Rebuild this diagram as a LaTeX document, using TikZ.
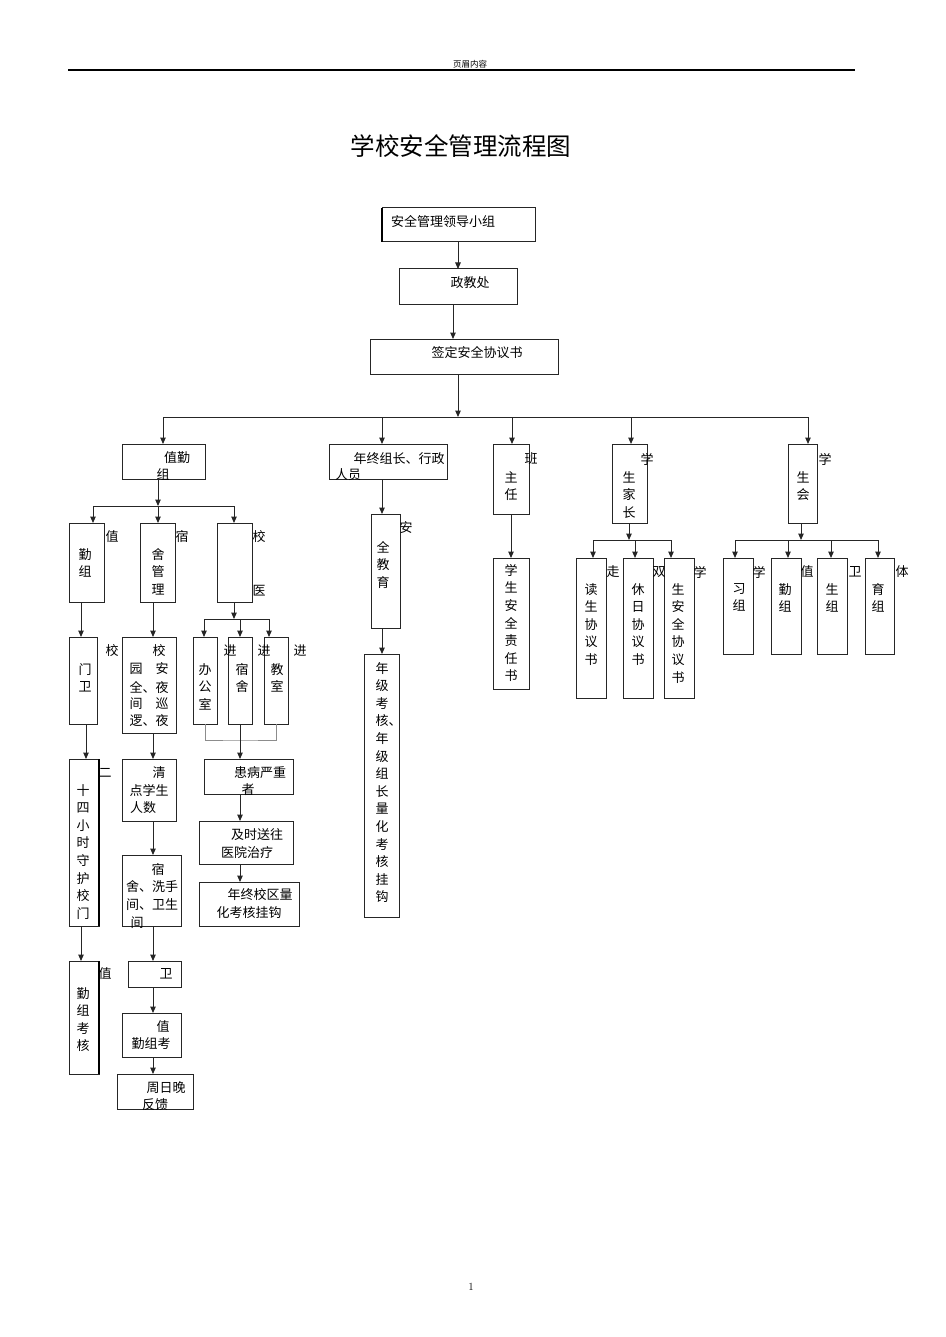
\documentclass[tikz,border=0pt]{standalone}
\usepackage{fontspec}
\newfontfamily\cjk{Noto Sans CJK SC}
\usetikzlibrary{arrows.meta}
\tikzset{
 bx/.style={draw=black!85, line width=1pt, inner sep=0pt, outer sep=0pt},
 ln/.style={draw=black!85, line width=1pt},
 gln/.style={draw=black!45, line width=1pt},
 arr/.style={ln, -{Triangle[length=6.5pt,width=5.5pt]}},
 ht/.style={font=\cjk\fontsize{13}{17.6}\selectfont, inner sep=0pt},
 vt/.style={ht, align=left, anchor=north west},
}
\newcommand\mkbox[5]{\node[bx, minimum width={(#4-#2)*1pt}, minimum height={(#5-#3)*1pt}] (#1) at ({(#2+#4)/2},{(#3+#5)/2}) {};}
\newcommand\vtxt[4]{\node[vt] (#1) at ({#2-6.5},{#3-6}) {#4};}
\newcommand\htxt[4]{\node[ht] (#1) at (#2,#3) {#4};}
\begin{document}
\begin{tikzpicture}[x=1pt,y=-1pt]
\useasboundingbox (0,0) rectangle (945,1337);
\fill[white] (0,0) rectangle (945,1337);
% header, title, page number
\node[inner sep=0pt, font=\cjk\fontsize{8.5}{10}\selectfont] (hdr) at (470,64) {页眉内容};
\draw[line width=1.2pt] (68,70) -- (855,70);
\node[inner sep=0pt, font=\cjk\fontsize{24.5}{28}\selectfont] (title) at (461,146) {学校安全管理流程图};
\node[inner sep=0pt, font=\fontsize{11}{13}\selectfont] (pg) at (471,1287) {1};

% boxes
\mkbox{A}{382}{208}{535}{242}
\mkbox{B}{399}{269}{517}{304}
\mkbox{C}{370}{339}{558}{374}
\mkbox{g1}{122}{444}{205}{479}
\mkbox{g2}{329}{444}{447}{479}
\mkbox{g3}{493}{444}{529}{514}
\mkbox{g4}{612}{444}{647}{523}
\mkbox{g5}{788}{444}{817}{523}
\mkbox{l1}{69}{523}{104}{602}
\mkbox{l2}{140}{523}{175}{602}
\mkbox{l3}{217}{523}{252}{602}
\mkbox{l1a}{69}{637}{97}{724}
\mkbox{l1b}{69}{759}{99}{926}
\mkbox{l1c}{69}{961}{99}{1074}
\mkbox{l2a}{122}{637}{176}{733}
\mkbox{l2b}{122}{759}{176}{821}
\mkbox{l2c}{122}{855}{181}{926}
\mkbox{l2d}{128}{961}{181}{987}
\mkbox{l2e}{122}{1013}{181}{1057}
\mkbox{l2f}{117}{1074}{193}{1109}
\mkbox{l3a}{193}{637}{217}{724}
\mkbox{l3b}{228}{637}{252}{724}
\mkbox{l3c}{264}{637}{288}{724}
\mkbox{l3d}{204}{759}{293}{794}
\mkbox{l3e}{199}{821}{293}{864}
\mkbox{l3f}{199}{882}{299}{926}
\mkbox{m1}{371}{514}{400}{628}
\mkbox{m2}{364}{654}{399}{917}
\mkbox{r1}{493}{558}{529}{689}
\mkbox{p1}{576}{558}{606}{698}
\mkbox{p2}{623}{558}{653}{698}
\mkbox{p3}{664}{558}{694}{698}
\mkbox{s1}{723}{558}{753}{654}
\mkbox{s2}{771}{558}{801}{654}
\mkbox{s3}{817}{558}{847}{654}
\mkbox{s4}{865}{558}{894}{654}
% thick edges
\draw[line width=1.8pt] (A.north west) -- (A.south west);
\draw[line width=1.6pt] (l1b.north east) -- (l1b.south east);
\draw[line width=1.6pt] (l1c.north east) -- (l1c.south east);

% texts
\htxt{tA}{443}{222}{安全管理领导小组}
\htxt{tB}{470}{283}{政教处}
\htxt{tC}{477}{353}{签定安全协议书}
\htxt{tg1a}{177}{458}{值勤}
\htxt{tg1b}{163}{474}{组}
\htxt{tg2a}{399}{459}{年终组长、行政}
\htxt{tg2b}{348}{475}{人员}
\htxt{tg3a}{531}{459}{班}
\vtxt{tg3b}{511}{477}{主\\任}
\htxt{tg4a}{647}{459}{学}
\vtxt{tg4b}{629}{477}{生\\家\\长}
\htxt{tg5a}{825}{459}{学}
\vtxt{tg5b}{803}{477}{生\\会}
\htxt{tl1a}{112}{537}{值}
\vtxt{tl1b}{85}{554}{勤\\组}
\htxt{tl2a}{182}{537}{宿}
\vtxt{tl2b}{158}{554}{舍\\管\\理}
\htxt{tl3a}{259}{537}{校}
\htxt{tl3b}{259}{591}{医}
\htxt{tl1aa}{112}{651}{校}
\vtxt{tl1ab}{85}{669}{门\\卫}
\htxt{tl2aa}{159}{651}{校}
\htxt{tl2ab}{149}{669}{园　安}
\htxt{tl2ac}{149}{687}{全、夜}
\htxt{tl2ad}{149}{704}{间　巡}
\htxt{tl2ae}{149}{721}{逻、夜}
\htxt{tl3aa}{230}{651}{进}
\vtxt{tl3ab}{205}{669}{办\\公\\室}
\htxt{tl3ba}{264}{651}{进}
\vtxt{tl3bb}{242}{669}{宿\\舍}
\htxt{tl3ca}{300}{651}{进}
\vtxt{tl3cb}{277}{669}{教\\室}
\htxt{tl1ba}{105}{773}{二}
\vtxt{tl1bb}{83}{790}{十\\四\\小\\时\\守\\护\\校\\门}
\htxt{tl1ca}{105}{974}{值}
\vtxt{tl1cb}{83}{993}{勤\\组\\考\\核}
\htxt{tl2ba}{159}{773}{清}
\htxt{tl2bb}{149}{790}{点学生}
\htxt{tl2bc}{143}{808}{人数}
\htxt{tl2ca}{158}{870}{宿}
\htxt{tl2cb}{152}{887}{舍、洗手}
\htxt{tl2cc}{152}{905}{间、卫生}
\htxt{tl2cd}{137}{923}{间}
\htxt{tl2da}{166}{974}{卫}
\htxt{tl2ea}{163}{1027}{值}
\htxt{tl2eb}{151}{1044}{勤组考}
\htxt{tl2fa}{166}{1088}{周日晚}
\htxt{tl2fb}{155}{1105}{反馈}
\htxt{tl3da}{260}{773}{患病严重}
\htxt{tl3db}{248}{790}{者}
\htxt{tl3ea}{257}{835}{及时送往}
\htxt{tl3eb}{247}{853}{医院治疗}
\htxt{tl3fa}{260}{895}{年终校区量}
\htxt{tl3fb}{249}{913}{化考核挂钩}
\htxt{tm1a}{406}{528}{安}
\vtxt{tm1b}{383}{547}{全\\教\\育}
\vtxt{tm2}{382}{668}{年\\级\\考\\核、\\年\\级\\组\\长\\量\\化\\考\\核\\挂\\钩}
\vtxt{tr1}{511}{570}{学\\生\\安\\全\\责\\任\\书}
\htxt{tp1a}{613}{572}{走}
\vtxt{tp1b}{591}{589}{读\\生\\协\\议\\书}
\htxt{tp2a}{659}{572}{双}
\vtxt{tp2b}{638}{589}{休\\日\\协\\议\\书}
\htxt{tp3a}{700}{572}{学}
\vtxt{tp3b}{678}{589}{生\\安\\全\\协\\议\\书}
\htxt{ts1a}{759}{572}{学}
\vtxt{ts1b}{739}{589}{习\\组}
\htxt{ts2a}{807}{572}{值}
\vtxt{ts2b}{785}{589}{勤\\组}
\htxt{ts3a}{855}{572}{卫}
\vtxt{ts3b}{832}{589}{生\\组}
\htxt{ts4a}{902}{572}{体}
\vtxt{ts4b}{878}{589}{育\\组}

% junctions
\coordinate (j0) at (458,417);
\coordinate (j1) at (158,506);
\coordinate (j2) at (234,619);
\coordinate (j3) at (240,740);
\coordinate (j4) at (629,540);
\coordinate (j5) at (801,540);

% top chain
\draw[arr] (A.south -| 458,0) -- (B.north -| 458,0);
\draw[arr] (B.south -| 453,0) -- (C.north -| 453,0);
\draw[arr] (C.south -| j0) -- (j0);
\draw[ln] (j0 -| 163,0) -- (j0 -| 808,0);
\draw[arr] (j0 -| 163,0) -- (g1.north -| 163,0);
\draw[arr] (j0 -| 382,0) -- (g2.north -| 382,0);
\draw[arr] (j0 -| 512,0) -- (g3.north -| 512,0);
\draw[arr] (j0 -| 631,0) -- (g4.north -| 631,0);
\draw[arr] (j0 -| 808,0) -- (g5.north -| 808,0);

% left group
\draw[arr] (g1.south -| j1) -- (j1);
\draw[ln] (j1 -| 93,0) -- (j1 -| 234,0);
\draw[arr] (j1 -| 93,0) -- (l1.north -| 93,0);
\draw[arr] (j1) -- (l2.north -| j1);
\draw[arr] (j1 -| 234,0) -- (l3.north -| 234,0);
\draw[arr] (l1.south -| 81,0) -- (l1a.north -| 81,0);
\draw[arr] (l1a.south -| 86,0) -- (l1b.north -| 86,0);
\draw[arr] (l1b.south -| 81,0) -- (l1c.north -| 81,0);
\draw[arr] (l2.south -| 153,0) -- (l2a.north -| 153,0);
\draw[arr] (l2a.south -| 153,0) -- (l2b.north -| 153,0);
\draw[arr] (l2b.south -| 153,0) -- (l2c.north -| 153,0);
\draw[arr] (l2c.south -| 153,0) -- (l2d.north -| 153,0);
\draw[arr] (l2d.south -| 153,0) -- (l2e.north -| 153,0);
\draw[arr] (l2e.south -| 153,0) -- (l2f.north -| 153,0);
\draw[arr] (l3.south -| j2) -- (j2);
\draw[ln] (j2 -| 204,0) -- (j2 -| 269,0);
\draw[arr] (j2 -| 204,0) -- (l3a.north -| 204,0);
\draw[arr] (j2 -| 240,0) -- (l3b.north -| 240,0);
\draw[arr] (j2 -| 269,0) -- (l3c.north -| 269,0);
\draw[gln] (l3a.south -| 205,0) |- (j3) -| (l3c.south -| 276,0);
\draw[arr] (l3b.south -| j3) -- (l3d.north -| j3);
\draw[arr] (l3d.south -| 240,0) -- (l3e.north -| 240,0);
\draw[arr] (l3e.south -| 240,0) -- (l3f.north -| 240,0);

% middle
\draw[arr] (g2.south -| 382,0) -- (m1.north -| 382,0);
\draw[arr] (m1.south -| 382,0) -- (m2.north -| 382,0);
\draw[arr] (g3.south -| 511,0) -- (r1.north -| 511,0);

% parents
\draw[arr] (g4.south -| j4) -- (j4);
\draw[ln] (j4 -| 593,0) -- (j4 -| 671,0);
\draw[arr] (j4 -| 593,0) -- (p1.north -| 593,0);
\draw[arr] (j4 -| 635,0) -- (p2.north -| 635,0);
\draw[arr] (j4 -| 671,0) -- (p3.north -| 671,0);

% student union
\draw[arr] (g5.south -| j5) -- (j5);
\draw[ln] (j5 -| 735,0) -- (j5 -| 878,0);
\draw[arr] (j5 -| 735,0) -- (s1.north -| 735,0);
\draw[arr] (j5 -| 788,0) -- (s2.north -| 788,0);
\draw[arr] (j5 -| 831,0) -- (s3.north -| 831,0);
\draw[arr] (j5 -| 878,0) -- (s4.north -| 878,0);
\end{tikzpicture}
\end{document}
